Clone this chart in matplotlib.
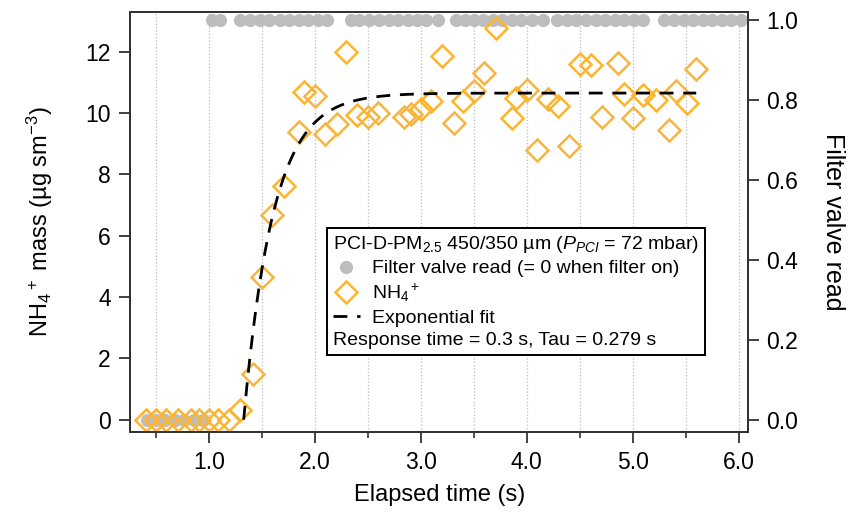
import numpy as np
import matplotlib
matplotlib.use("Agg")
import matplotlib.pyplot as plt
from matplotlib.lines import Line2D
from matplotlib.ticker import MultipleLocator

plt.rcParams['font.family'] = ['Liberation Sans', 'DejaVu Sans']
plt.rcParams['mathtext.fontset'] = 'custom'
plt.rcParams['mathtext.rm'] = 'Liberation Sans'
plt.rcParams['mathtext.it'] = 'Liberation Sans:italic'

# NH4+ mass (ug sm-3) against elapsed time (s)
nh4_time = [0.41, 0.50, 0.60, 0.71, 0.83, 0.91, 1.00, 1.09, 1.19, 1.30, 1.42,
            1.50, 1.60, 1.71, 1.85, 1.90, 2.00, 2.10, 2.21, 2.30, 2.40, 2.50,
            2.60, 2.84, 2.91, 3.00, 3.10, 3.20, 3.31, 3.40, 3.50, 3.60, 3.71,
            3.86, 3.90, 4.00, 4.10, 4.20, 4.30, 4.40, 4.50, 4.61, 4.71, 4.86,
            4.92, 5.00, 5.10, 5.22, 5.34, 5.41, 5.51, 5.60]
nh4_mass = [0.0, 0.0, 0.0, 0.0, 0.0, 0.0, 0.0, 0.0, 0.0, 0.33, 1.5,
            4.66, 6.66, 7.61, 9.37, 10.7, 10.56, 9.3, 9.65, 11.98, 9.93, 9.88,
            10.0, 9.88, 9.97, 10.12, 10.4, 11.85, 9.68, 10.4, 10.73, 11.3, 12.78,
            9.84, 10.5, 10.75, 8.8, 10.47, 10.23, 8.93, 11.6, 11.57, 9.87, 11.64,
            10.62, 9.84, 10.59, 10.42, 9.46, 10.73, 10.34, 11.45]

# filter valve read (1 = filter off, 0 = filter on)
valve_time = [0.42, 0.50, 0.59, 0.68, 0.77, 0.86, 0.95,
              1.03, 1.11, 1.30, 1.39, 1.48, 1.57, 1.67, 1.76, 1.85, 1.94, 2.03,
              2.12, 2.34, 2.42, 2.51, 2.61, 2.70, 2.79, 2.88, 2.97, 3.05, 3.16,
              3.33, 3.42, 3.50, 3.59, 3.68, 3.77, 3.86, 3.95, 4.05, 4.15, 4.29,
              4.38, 4.47, 4.56, 4.65, 4.74, 4.83, 4.92, 5.01, 5.10, 5.30, 5.39,
              5.48, 5.57, 5.66, 5.75, 5.84, 5.93, 6.02]
valve_read = [0] * 7 + [1] * 51

# exponential fit parameters
fit_t0 = 1.33
fit_amp = 10.65
fit_tau = 0.279
fit_end = 5.6

orange = '#FBB434'
grey = '#BDBDBD'

fig = plt.figure(figsize=(8.57, 5.13), dpi=100)
ax = fig.add_axes([0.152, 0.158, 0.721, 0.819])
ax2 = ax.twinx()
ax.set_zorder(ax2.get_zorder() + 1)
ax.patch.set_visible(False)

ax2.plot(valve_time, valve_read, 'o', color=grey, ms=9.5, mec='none')

ax.plot(nh4_time, nh4_mass, 'D', mfc='none', mec=orange, ms=11, mew=1.8)

t_fit = np.linspace(fit_t0, fit_end, 300)
y_fit = fit_amp * (1 - np.exp(-(t_fit - fit_t0) / fit_tau))
ax.plot(t_fit, y_fit, color='black', lw=2, dashes=(5, 3.5))

ax.set_xlim(0.26, 6.09)
ax.set_ylim(-0.4, 13.3)
ax2.set_ylim(-0.03, 1.02)

ax.xaxis.set_minor_locator(MultipleLocator(0.5))
ax.set_xticks([1, 2, 3, 4, 5, 6])
ax.set_xticklabels(['1.0', '2.0', '3.0', '4.0', '5.0', '6.0'])
ax.set_yticks(range(0, 13, 2))
ax2.set_yticks([0, 0.2, 0.4, 0.6, 0.8, 1.0])
ax2.set_yticklabels(['0.0', '0.2', '0.4', '0.6', '0.8', '1.0'])

ax.grid(True, which='both', axis='x', color='#bbbbbb', ls=':', lw=0.9)

for a in (ax, ax2):
    for s in a.spines.values():
        s.set_color('#333333')
        s.set_linewidth(1.4)
ax.tick_params(which='major', length=8, width=1.3, pad=6, labelsize=16.5,
               color='#333333')
ax.tick_params(which='minor', length=4.5, width=1.2, color='#333333')
ax2.tick_params(which='major', length=8, width=1.3, pad=5, labelsize=16.5,
                color='#333333')

ax.set_xlabel('Elapsed time (s)', fontsize=17, labelpad=7)
ax.set_ylabel('NH$_4$$^+$ mass (µg sm$^{-3}$)', fontsize=17, labelpad=22)
ax2.set_ylabel('Filter valve read', fontsize=18, rotation=270, labelpad=34)

handles = [
    Line2D([], [], ls='none', marker='o', color=grey, ms=9.5, mec='none'),
    Line2D([], [], ls='none', marker='D', mfc='none', mec=orange, ms=11, mew=1.8),
    Line2D([], [], color='black', lw=2, dashes=(5, 3.5)),
    Line2D([], [], ls='none'),
]
labels = ['Filter valve read (= 0 when filter on)', 'NH$_4$$^+$', 'Exponential fit',
          'Response time = 0.3 s, Tau = 0.279 s']
leg = ax.legend(handles, labels,
                title='PCI-D-PM$_{2.5}$ 450/350 µm ($P_{PCI}$ = 72 mbar)',
                title_fontsize=14, fontsize=14, alignment='left',
                loc='upper left', bbox_to_anchor=(327 / 857, 1 - 228 / 513),
                bbox_transform=fig.transFigure, fancybox=False,
                edgecolor='black', framealpha=1, borderpad=0.3,
                handlelength=1.4, handletextpad=0.6, labelspacing=0.25,
                borderaxespad=0)
leg.get_frame().set_linewidth(1.4)

# last row has no symbol: pull its text to the left edge
row = leg._legend_handle_box.get_children()[0].get_children()[-1]
row.get_children()[0].width = 0
row.sep = 0

fig.savefig('out.png', dpi=100)
